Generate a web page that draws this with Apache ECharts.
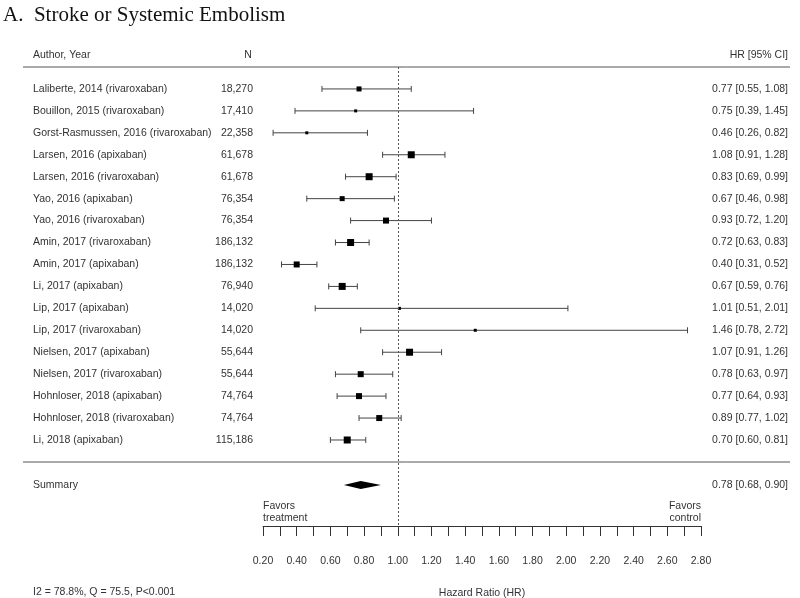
<!DOCTYPE html>
<html lang="en">
<head>
    <meta charset="UTF-8">
    <title>Stroke or Systemic Embolism</title>
    <script src="https://cdn.jsdelivr.net/npm/echarts@6/dist/echarts.min.js"></script>
    <style>
        html, body { margin: 0; padding: 0; background: #fff; }
        #chart { width: 800px; height: 598px; }
    </style>
</head>
<body>
    <div id="chart"></div>
    <script type="text/javascript">
        // study rows
        var studies = [
            'Laliberte, 2014 (rivaroxaban)', 'Bouillon, 2015 (rivaroxaban)', 'Gorst-Rasmussen, 2016 (rivaroxaban)',
            'Larsen, 2016 (apixaban)', 'Larsen, 2016 (rivaroxaban)', 'Yao, 2016 (apixaban)', 'Yao, 2016 (rivaroxaban)',
            'Amin, 2017 (rivaroxaban)', 'Amin, 2017 (apixaban)', 'Li, 2017 (apixaban)', 'Lip, 2017 (apixaban)',
            'Lip, 2017 (rivaroxaban)', 'Nielsen, 2017 (apixaban)', 'Nielsen, 2017 (rivaroxaban)',
            'Hohnloser, 2018 (apixaban)', 'Hohnloser, 2018 (rivaroxaban)', 'Li, 2018 (apixaban)'
        ];
        var sampleN = ['18,270', '17,410', '22,358', '61,678', '61,678', '76,354', '76,354', '186,132', '186,132',
            '76,940', '14,020', '14,020', '55,644', '55,644', '74,764', '74,764', '115,186'];
        var hr = [0.77, 0.75, 0.46, 1.08, 0.83, 0.67, 0.93, 0.72, 0.40, 0.67, 1.01, 1.46, 1.07, 0.78, 0.77, 0.89, 0.70];
        var lower = [0.55, 0.39, 0.26, 0.91, 0.69, 0.46, 0.72, 0.63, 0.31, 0.59, 0.51, 0.78, 0.91, 0.63, 0.64, 0.77, 0.60];
        var upper = [1.08, 1.45, 0.82, 1.28, 0.99, 0.98, 1.20, 0.83, 0.52, 0.76, 2.01, 2.72, 1.26, 0.97, 0.93, 1.02, 0.81];
        // study weight -> box side in px
        var boxSize = [5, 3, 3, 7, 7, 5, 6, 7, 6, 7, 3, 3, 7, 6, 6, 6, 7];
        // summary estimate [hr, lower, upper]
        var summaryEst = [0.78, 0.68, 0.90];
        var heterogeneity = 'I2 = 78.8%, Q = 75.5, P<0.001';

        var sans = '"Liberation Sans", Arial, sans-serif';
        var txtColor = '#333';
        var txtFont = '10.5px ' + sans;
        var rightX = 788;

        function fmt(v) { return v.toFixed(2); }

        var myChart = echarts.init(document.getElementById('chart'));

        function textEl(x, y, str, align) {
            return {
                type: 'text',
                style: {
                    x: x, y: y, text: str, fill: txtColor,
                    font: txtFont,
                    textAlign: align || 'left',
                    textVerticalAlign: 'middle'
                }
            };
        }

        function renderRow(params, api) {
            var i = params.dataIndex;
            var row = i + 1;
            var pl = api.coord([lower[i], row]);
            var pu = api.coord([upper[i], row]);
            var pc = api.coord([hr[i], row]);
            var y = pc[1];
            var s = boxSize[i];
            var ln = { stroke: '#444', lineWidth: 1 };
            return {
                type: 'group',
                children: [
                    { type: 'line', shape: { x1: pl[0], y1: y, x2: pu[0], y2: y }, style: ln },
                    { type: 'line', shape: { x1: pl[0], y1: y - 3, x2: pl[0], y2: y + 3 }, style: ln },
                    { type: 'line', shape: { x1: pu[0], y1: y - 3, x2: pu[0], y2: y + 3 }, style: ln },
                    { type: 'rect', shape: { x: pc[0] - s / 2, y: y - s / 2, width: s, height: s }, style: { fill: '#000' } },
                    textEl(33, y, studies[i]),
                    textEl(253, y, sampleN[i], 'right'),
                    textEl(rightX, y, fmt(hr[i]) + ' [' + fmt(lower[i]) + ', ' + fmt(upper[i]) + ']', 'right')
                ]
            };
        }

        function renderSummary(params, api) {
            var row = 19.05;
            var pl = api.coord([summaryEst[1], row]);
            var pu = api.coord([summaryEst[2], row]);
            var pc = api.coord([summaryEst[0], row]);
            var y = pc[1];
            return {
                type: 'group',
                children: [
                    { type: 'polygon', shape: { points: [[pl[0], y], [pc[0], y - 4], [pu[0], y], [pc[0], y + 4]] }, style: { fill: '#000' } },
                    textEl(33, y, 'Summary'),
                    textEl(rightX, y, fmt(summaryEst[0]) + ' [' + fmt(summaryEst[1]) + ', ' + fmt(summaryEst[2]) + ']', 'right')
                ]
            };
        }

        var option = {
            animation: false,
            backgroundColor: '#fff',
            grid: { left: 263, right: 99, top: 67, bottom: 72, outerBoundsMode: 'none', containLabel: false },
            xAxis: {
                type: 'value',
                position: 'bottom',
                min: 0.2,
                max: 2.8,
                interval: 0.2,
                name: 'Hazard Ratio (HR)',
                nameLocation: 'middle',
                nameGap: 62,
                nameTextStyle: { color: txtColor, fontSize: 10.5, fontFamily: sans },
                axisLine: { onZero: false, lineStyle: { color: '#333', width: 1 } },
                axisTick: { show: true, length: 10, lineStyle: { color: '#333' } },
                minorTick: { show: true, splitNumber: 2, length: 10, lineStyle: { color: '#333' } },
                splitLine: { show: false },
                axisLabel: { color: txtColor, fontSize: 10.5, fontFamily: sans, margin: 30, formatter: fmt }
            },
            yAxis: { type: 'value', min: 0, max: 20.92, inverse: true, show: false },
            graphic: [
                { type: 'text', left: 3, top: 5, style: { text: 'A.  Stroke or Systemic Embolism', fill: '#111', font: '21px "Liberation Serif", "Times New Roman", serif' } },
                { type: 'text', x: 33, y: 55, style: { text: 'Author, Year', fill: txtColor, font: txtFont, textVerticalAlign: 'middle' } },
                { type: 'text', x: 248, y: 55, style: { text: 'N', fill: txtColor, font: txtFont, textAlign: 'center', textVerticalAlign: 'middle' } },
                { type: 'text', x: rightX, y: 55, style: { text: 'HR [95% CI]', fill: txtColor, font: txtFont, textAlign: 'right', textVerticalAlign: 'middle' } },
                { type: 'line', shape: { x1: 23, y1: 67, x2: 790, y2: 67 }, style: { stroke: '#555', lineWidth: 1 } },
                { type: 'line', shape: { x1: 23, y1: 462, x2: 790, y2: 462 }, style: { stroke: '#555', lineWidth: 1 } },
                { type: 'text', x: 263, y: 500, style: { text: 'Favors\ntreatment', fill: txtColor, font: txtFont, lineHeight: 12 } },
                { type: 'text', x: 701, y: 500, style: { text: 'Favors\ncontrol', fill: txtColor, font: txtFont, lineHeight: 12, textAlign: 'right' } },
                { type: 'text', x: 33, y: 592, style: { text: heterogeneity, fill: txtColor, font: txtFont, textVerticalAlign: 'middle' } }
            ],
            series: [
                {
                    type: 'line',
                    data: [],
                    silent: true,
                    markLine: {
                        symbol: 'none',
                        silent: true,
                        label: { show: false },
                        lineStyle: { color: '#555', type: [2, 2], width: 1 },
                        data: [{ xAxis: 1 }]
                    }
                },
                {
                    type: 'custom',
                    renderItem: renderRow,
                    clip: false,
                    data: hr.map(function(v, i) { return [v, i + 1]; })
                },
                {
                    type: 'custom',
                    renderItem: renderSummary,
                    clip: false,
                    data: [[summaryEst[0], 19.05]]
                }
            ]
        };

        myChart.setOption(option);
    </script>
</body>
</html>
